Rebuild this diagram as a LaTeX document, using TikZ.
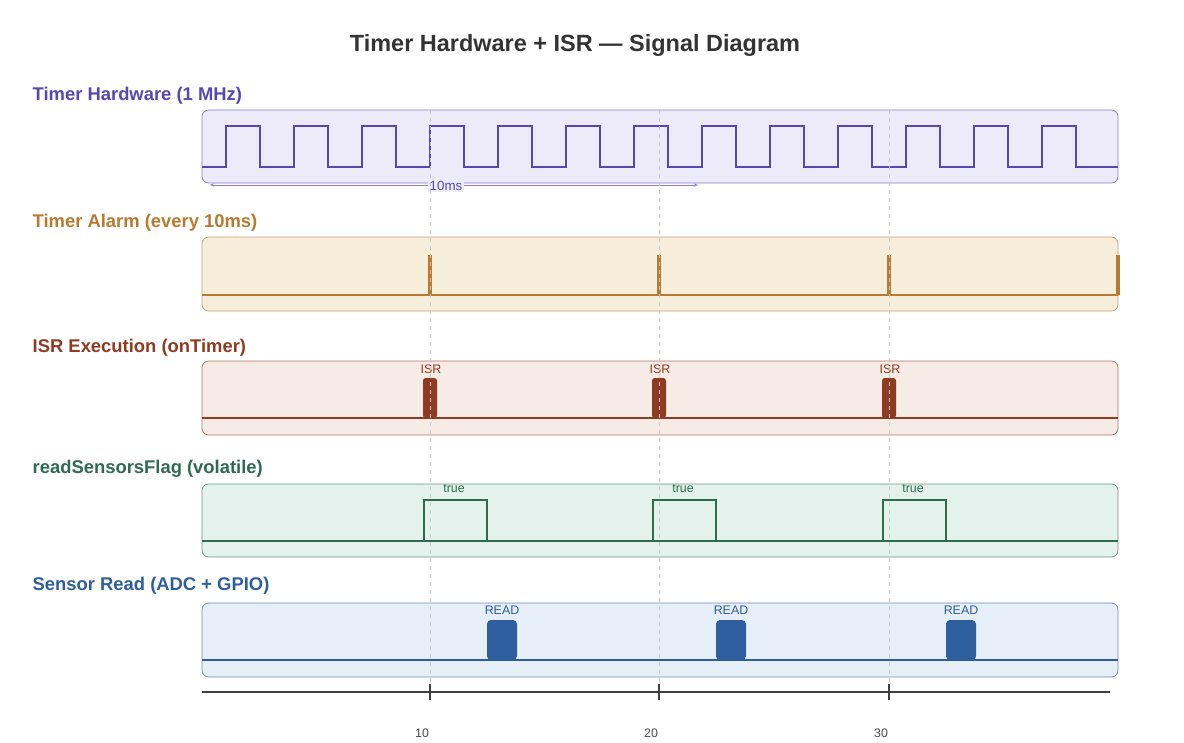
\documentclass[tikz,border=0pt]{standalone}
\usepackage{fontspec}
\setmainfont{Liberation Sans}
\usepackage{tikz}
\usetikzlibrary{arrows.meta}

\definecolor{hwcol}{HTML}{5548B0}
\definecolor{hwfill}{HTML}{EDEBFA}
\definecolor{alcol}{HTML}{B87A30}
\definecolor{alfill}{HTML}{F7EDDB}
\definecolor{isrcol}{HTML}{8E3B22}
\definecolor{isrfill}{HTML}{F7EBE6}
\definecolor{flcol}{HTML}{2E6B50}
\definecolor{flfill}{HTML}{E3F2EC}
\definecolor{rdcol}{HTML}{2E5E9E}
\definecolor{rdfill}{HTML}{E6EFF8}

\tikzset{
  lane/.style={rounded corners=5pt,line width=0.6pt},
  rowlabel/.style={anchor=west,font=\fontsize{13.8}{16}\selectfont\bfseries},
  tag/.style={font=\fontsize{9.3}{11}\selectfont},
  sig/.style={line width=1.6pt},
  guide/.style={gray!45,dashed,line width=0.7pt}
}

\begin{document}
\begin{tikzpicture}[x=0.75pt,y=-0.75pt]
      \useasboundingbox (0,0) rectangle (1184,742);

      \node [font=\fontsize{17.6}{20}\selectfont\bfseries,text=black!80] (title) at (575,45) {Timer Hardware + ISR — Signal Diagram};

      % lanes
      \draw [lane,draw=hwcol!70,fill=hwfill] (202,110) rectangle (1118,183);
      \draw [lane,draw=alcol!70,fill=alfill] (202,237) rectangle (1118,311);
      \draw [lane,draw=isrcol!70,fill=isrfill] (202,361) rectangle (1118,435);
      \draw [lane,draw=flcol!70,fill=flfill] (202,484) rectangle (1118,557);
      \draw [lane,draw=rdcol!70,fill=rdfill] (202,603) rectangle (1118,677);

      \node [rowlabel,text=hwcol] (hwlabel) at (28,96) {Timer Hardware (1 MHz)};
      \node [rowlabel,text=alcol] (allabel) at (28,223) {Timer Alarm (every 10ms)};
      \node [rowlabel,text=isrcol] (isrlabel) at (28,348) {ISR Execution (onTimer)};
      \node [rowlabel,text=flcol] (fllabel) at (28,469) {readSensorsFlag (volatile)};
      \node [rowlabel,text=rdcol] (rdlabel) at (28,586) {Sensor Read (ADC + GPIO)};

      % clock
      \draw [sig,hwcol] (202,167) -- (226,167)
        \foreach \t in {226,294,...,1042} { -- (\t,167) -- (\t,126) -- (\t+34,126) -- (\t+34,167) }
        -- (1118,167);
      \coordinate (p0) at (210,185);
      \coordinate (p1) at (698,185);
      \draw [hwcol!70,line width=0.5pt,{Stealth[length=3pt]}-{Stealth[length=3pt]}] (p0) -- (p1);
      \node [tag,text=hwcol,fill=hwfill,inner sep=1pt,font=\fontsize{10}{12}\selectfont] (period) at (446,186) {10ms};

      % baselines
      \draw [alcol,line width=1.2pt] (202,295) -- (1118,295);
      \draw [isrcol,line width=1.2pt] (202,418) -- (1118,418);
      \draw [sig,flcol] (202,541) -- (1118,541);
      \draw [rdcol,line width=1.2pt] (202,660) -- (1118,660);

      \foreach \x in {430,659,889} {
        \fill [alcol] (\x-2,255) rectangle (\x+2,295);
        \fill [isrcol,rounded corners=2pt] (\x-7,378) rectangle (\x+7,418);
        \node [tag,text=isrcol] at (\x+1,369) {ISR};
        \draw [sig,flcol] (\x-6,541) -- (\x-6,500) -- (\x+57,500) -- (\x+57,541);
        \node [tag,text=flcol] at (\x+24,489) {true};
        \fill [rdcol,rounded corners=3pt] (\x+57,620) rectangle (\x+87,660);
        \node [tag,text=rdcol] at (\x+72,610) {READ};
      }
      \fill [alcol] (1116,255) rectangle (1120,295);

      % guides
      \foreach \x in {430,659,889}
        \draw [guide] (\x,110) -- (\x,700);

      % time axis
      \draw [black!75,line width=1pt] (202,692) -- (1110,692);
      \foreach \x/\lbl in {430/10,659/20,889/30} {
        \draw [black!75,line width=1pt] (\x,684) -- (\x,700);
        \node [tag,text=black!70] at (\x-8,733) {\lbl};
      }
\end{tikzpicture}
\end{document}
